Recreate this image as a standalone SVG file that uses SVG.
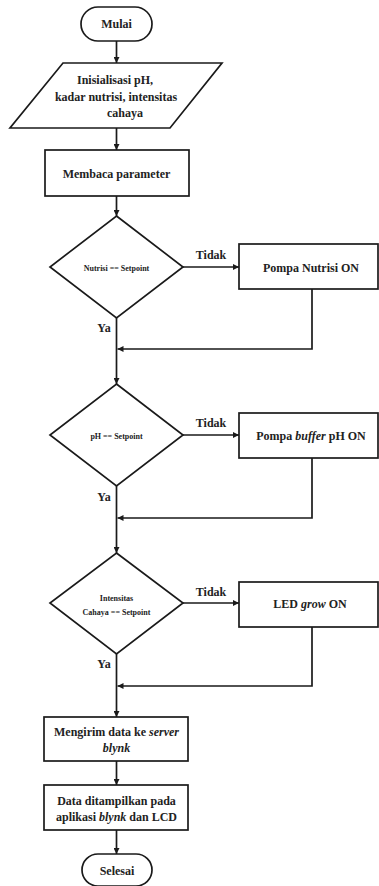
<svg xmlns="http://www.w3.org/2000/svg" width="379" height="886" viewBox="0 0 379 886" font-family="'Liberation Serif', 'Times New Roman', 'DejaVu Serif', serif">
<defs>
<marker id="ah" viewBox="0 0 10 10" refX="10" refY="5" markerWidth="6" markerHeight="6" orient="auto" markerUnits="userSpaceOnUse">
<path d="M0,0 L10,5 L0,10 z" fill="#1a1a1a"/>
</marker>
<style>
.s{fill:#fff;stroke:#1a1a1a;stroke-width:1.7}
.c{fill:none;stroke:#1a1a1a;stroke-width:1.7}
.t{font-family:"Liberation Serif","Times New Roman","DejaVu Serif",serif;font-weight:bold;font-size:12px;fill:#222;text-anchor:middle;dominant-baseline:central}
.d{font-size:8px}
</style>
</defs>
<rect width="379" height="886" fill="#fff"/>
<g id="connectors">
<line class="c" x1="116.5" y1="41" x2="116.5" y2="63" marker-end="url(#ah)"/>
<line class="c" x1="116.5" y1="128" x2="116.5" y2="150" marker-end="url(#ah)"/>
<line class="c" x1="116.5" y1="196" x2="116.5" y2="216" marker-end="url(#ah)"/>
<line class="c" x1="183" y1="267" x2="239" y2="267" marker-end="url(#ah)"/>
<line class="c" x1="116.5" y1="318" x2="116.5" y2="384" marker-end="url(#ah)"/>
<polyline class="c" points="312,289 312,349 117.5,349" marker-end="url(#ah)"/>
<line class="c" x1="183" y1="435" x2="239" y2="435" marker-end="url(#ah)"/>
<line class="c" x1="116.5" y1="486" x2="116.5" y2="553" marker-end="url(#ah)"/>
<polyline class="c" points="312,458 312,518 117.5,518" marker-end="url(#ah)"/>
<line class="c" x1="183" y1="603" x2="239" y2="603" marker-end="url(#ah)"/>
<line class="c" x1="116.5" y1="654" x2="116.5" y2="717" marker-end="url(#ah)"/>
<polyline class="c" points="312,627 312,686 117.5,686" marker-end="url(#ah)"/>
<line class="c" x1="116.5" y1="761" x2="116.5" y2="785" marker-end="url(#ah)"/>
<line class="c" x1="116.5" y1="830" x2="116.5" y2="854" marker-end="url(#ah)"/>
<text class="t" x="211" y="255">Tidak</text>
<text class="t" x="104" y="328">Ya</text>
<text class="t" x="211" y="423">Tidak</text>
<text class="t" x="104" y="497">Ya</text>
<text class="t" x="211" y="592">Tidak</text>
<text class="t" x="104" y="664">Ya</text>
</g>
<g id="mulai">
<rect class="s" x="81" y="7" width="71" height="34" rx="17"/>
<text class="t" x="116.5" y="24">Mulai</text>
</g>
<g id="inisialisasi">
<polygon class="s" points="63,63 222,63 170,128 10,128"/>
<text class="t" x="115" y="80">Inisialisasi pH,</text>
<text class="t" x="116" y="97">kadar nutrisi, intensitas</text>
<text class="t" x="125" y="113">cahaya</text>
</g>
<g id="membaca">
<rect class="s" x="45" y="150" width="144" height="46"/>
<text class="t" x="116.5" y="174">Membaca parameter</text>
</g>
<g id="cek-nutrisi">
<polygon class="s" points="116.5,216 183,267 116.5,318 50,267"/>
<text class="t d" x="116.5" y="268">Nutrisi == Setpoint</text>
</g>
<g id="pompa-nutrisi">
<rect class="s" x="239" y="244" width="139" height="45"/>
<text class="t" x="311" y="268">Pompa Nutrisi ON</text>
</g>
<g id="cek-ph">
<polygon class="s" points="116.5,384 183,435 116.5,486 50,435"/>
<text class="t d" x="116.5" y="436">pH == Setpoint</text>
</g>
<g id="pompa-buffer">
<rect class="s" x="239" y="413" width="139" height="45"/>
<text class="t" x="311" y="436">Pompa <tspan font-style="italic">buffer</tspan> pH ON</text>
</g>
<g id="cek-cahaya">
<polygon class="s" points="116.5,553 183,603 116.5,654 50,603"/>
<text class="t d" x="116.5" y="598">Intensitas</text>
<text class="t d" x="116.5" y="612">Cahaya == Setpoint</text>
</g>
<g id="led-grow">
<rect class="s" x="239" y="582" width="139" height="45"/>
<text class="t" x="310" y="604">LED <tspan font-style="italic">grow</tspan> ON</text>
</g>
<g id="mengirim">
<rect class="s" x="44" y="717" width="144" height="44"/>
<text class="t" x="116.5" y="732">Mengirim data ke <tspan font-style="italic">server</tspan></text>
<text class="t" x="116.5" y="748" font-style="italic">blynk</text>
</g>
<g id="tampilkan">
<rect class="s" x="44" y="785" width="144" height="45"/>
<text class="t" x="116.5" y="801">Data ditampilkan pada</text>
<text class="t" x="116.5" y="817">aplikasi <tspan font-style="italic">blynk</tspan> dan LCD</text>
</g>
<g id="selesai">
<rect class="s" x="82" y="854" width="70" height="32" rx="16"/>
<text class="t" x="117" y="871">Selesai</text>
</g>
</svg>
